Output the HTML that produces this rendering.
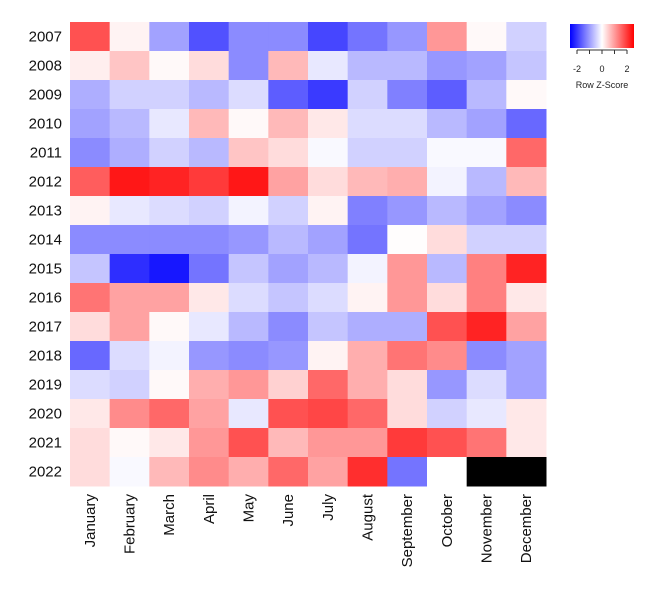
<!DOCTYPE html>
<html><head><meta charset="utf-8"><style>
body{margin:0;background:#fff;font-family:"Liberation Sans",sans-serif}
</style></head><body>
<svg id="chart" width="646" height="585" xmlns="http://www.w3.org/2000/svg">
<g id="cells"></g>
<g id="ylab"></g>
<g id="xlab"></g>
<g>
<defs><linearGradient id="lg" x1="0" x2="1"><stop offset="0" stop-color="#0000ff"/><stop offset="0.5" stop-color="#ffffff"/><stop offset="1" stop-color="#ff0000"/></linearGradient></defs>
<rect x="570" y="24" width="64" height="24" fill="url(#lg)"/>
<g id="legticks"></g>
<text x="602" y="88" font-size="9" text-anchor="middle" fill="#222">Row Z-Score</text>
</g>
</svg>
<script>
const months=["January","February","March","April","May","June","July","August","September","October","November","December"];
const years=["2007","2008","2009","2010","2011","2012","2013","2014","2015","2016","2017","2018","2019","2020","2021","2022"];
const z2007=[1.5,0.1,-0.8,-1.5,-1.0,-1.0,-1.6,-1.2,-0.9,0.9,0.05,-0.4];
const z2008=[0.15,0.5,0.05,0.3,-1.0,0.6,-0.2,-0.6,-0.6,-0.9,-0.8,-0.5];
const z2009=[-0.7,-0.4,-0.4,-0.6,-0.3,-1.4,-1.7,-0.4,-1.1,-1.4,-0.6,0.05];
const z2010=[-0.8,-0.6,-0.2,0.6,0.05,0.6,0.2,-0.3,-0.3,-0.6,-0.8,-1.3];
const z2011=[-1.0,-0.7,-0.4,-0.6,0.5,0.3,-0.05,-0.4,-0.4,-0.05,-0.05,1.3];
const z2012=[1.4,2.0,1.9,1.7,2.0,0.8,0.3,0.6,0.7,-0.1,-0.6,0.6];
const z2013=[0.1,-0.2,-0.3,-0.4,-0.1,-0.4,0.1,-1.1,-0.9,-0.6,-0.8,-1.0];
const z2014=[-1.0,-1.0,-1.0,-1.0,-0.9,-0.6,-0.8,-1.2,0.02,0.3,-0.4,-0.4];
const z2015=[-0.5,-1.8,-2.0,-1.2,-0.5,-0.8,-0.6,-0.1,0.9,-0.6,1.1,1.9];
const z2016=[1.2,0.8,0.8,0.2,-0.3,-0.5,-0.3,0.1,0.9,0.3,1.1,0.2];
const z2017=[0.3,0.8,0.05,-0.2,-0.6,-1.0,-0.5,-0.7,-0.7,1.5,1.9,0.8];
const z2018=[-1.3,-0.3,-0.1,-0.9,-1.0,-0.9,0.1,0.7,1.2,1.0,-1.0,-0.8];
const z2019=[-0.3,-0.4,0.05,0.7,0.9,0.4,1.3,0.7,0.3,-0.9,-0.3,-0.8];
const z2020=[0.2,1.0,1.3,0.8,-0.2,1.5,1.6,1.3,0.3,-0.4,-0.2,0.2];
const z2021=[0.3,0.05,0.2,0.9,1.5,0.6,0.9,0.9,1.7,1.5,1.2,0.2];
const z2022=[0.3,-0.05,0.6,1.0,0.7,1.3,0.8,1.8,-1.2,0,null,null];
const values=[z2007,z2008,z2009,z2010,z2011,z2012,z2013,z2014,z2015,z2016,z2017,z2018,z2019,z2020,z2021,z2022];
const legendTicks=[-2,-1,0,1,2];
const legendLabels=[-2,0,2];

const NS="http://www.w3.org/2000/svg";
const X0=70,X1=546,Y0=22,Y1=486,ZMAX=2.56,CMAX=2.2;
const cw=(X1-X0)/months.length, ch=(Y1-Y0)/years.length;
const xs=i=>X0+i*cw, ys=j=>Y0+j*ch;
const lx=v=>602+v*(32/ZMAX);
function color(v){
  if(v===null) return "#000";
  let t=Math.max(-1,Math.min(1,v/CMAX));
  let c=Math.round(255*(1-Math.abs(t)));
  return t<0?`rgb(${c},${c},255)`:`rgb(255,${c},${c})`;
}
function mk(tag,attrs,parent){const e=document.createElementNS(NS,tag);for(const k in attrs)e.setAttribute(k,attrs[k]);parent.appendChild(e);return e;}
const cells=document.getElementById('cells');
values.forEach((row,j)=>row.forEach((v,i)=>{
  const r=mk('rect',{x:xs(i),y:ys(j),width:cw+0.5,height:ch+0.5,fill:color(v)},cells);
  
  
}));
const yl=document.getElementById('ylab');
years.forEach((y,j)=>{
  const t=mk('text',{x:62,y:ys(j)+ch/2+5,'font-size':15,'text-anchor':'end',fill:'#111'},yl);
  t.textContent=y;
  
  
});
const xl=document.getElementById('xlab');
months.forEach((m,i)=>{
  const cx=xs(i)+cw/2+5, cy=494;
  const t=mk('text',{x:cx,y:cy,'font-size':15,'text-anchor':'end',fill:'#111',transform:`rotate(-90 ${cx} ${cy})`},xl);
  t.textContent=m;
  
  
});
const lt=document.getElementById('legticks');
mk('line',{x1:lx(-2),x2:lx(2),y1:50,y2:50,stroke:'#333','stroke-width':1},lt);
legendTicks.forEach(v=>{
  const l=mk('line',{x1:lx(v),x2:lx(v),y1:50,y2:54,stroke:'#333','stroke-width':1},lt);
  
  
});
legendLabels.forEach(v=>{
  const t=mk('text',{x:lx(v),y:72,'font-size':9,'text-anchor':'middle',fill:'#222'},lt);
  t.textContent=v;
  
  
});
</script>
</body></html>
